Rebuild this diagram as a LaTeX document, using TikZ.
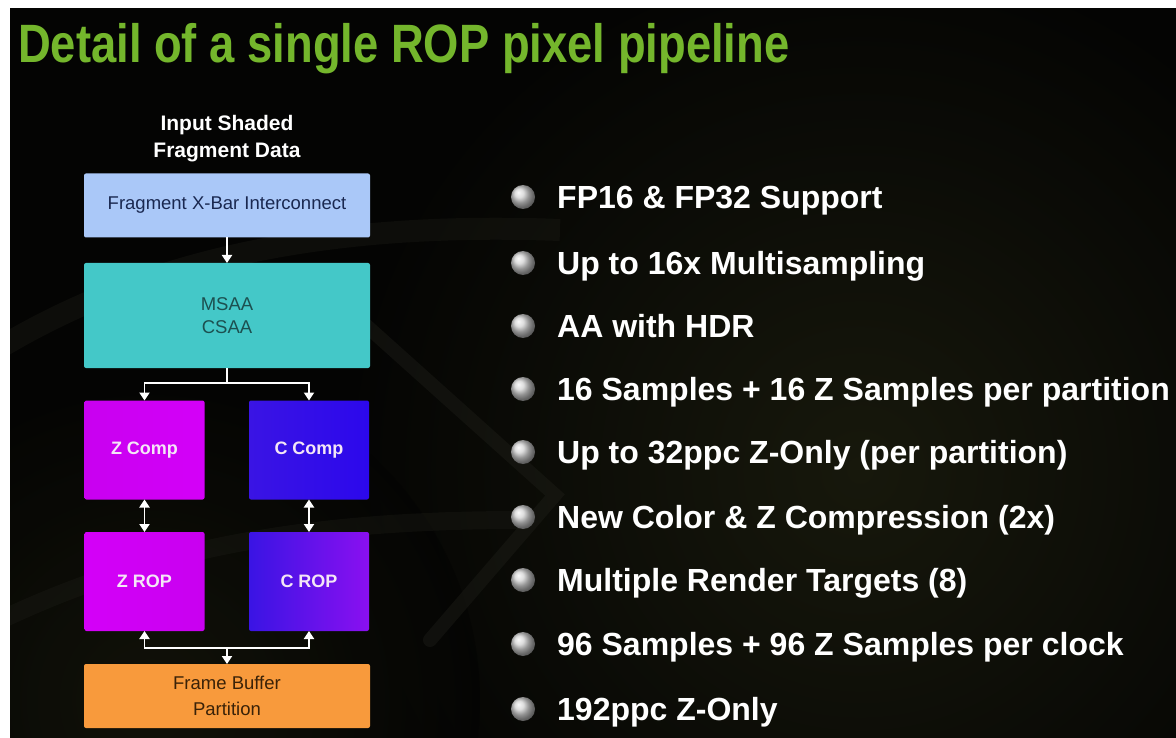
\documentclass[tikz,border=0pt]{standalone}
\usepackage{fontspec}
\setmainfont{Liberation Sans}
\newfontfamily\titlefont[FakeStretch=0.84]{Liberation Sans}
\usetikzlibrary{arrows.meta}
\definecolor{nvgreen}{HTML}{74B62C}
\definecolor{xbarblue}{HTML}{AAC8F8}
\definecolor{msaateal}{HTML}{44C8C8}
\definecolor{zpurple}{HTML}{C800F0}
\definecolor{zpurpleb}{HTML}{D400F8}
\definecolor{cblue}{HTML}{2C08EC}
\definecolor{cbluel}{HTML}{3A14E4}
\definecolor{cropviolet}{HTML}{8A10F0}
\definecolor{fborange}{HTML}{F89A3C}
\definecolor{navytext}{HTML}{1A2850}
\definecolor{tealtext}{HTML}{1C5050}
\definecolor{browntext}{HTML}{3A2208}
\definecolor{boxtext}{HTML}{F4E6F6}
\definecolor{slidebg}{HTML}{040403}
\definecolor{swoosh}{HTML}{1E1E18}
\definecolor{olivebg}{HTML}{17180C}
\tikzset{
  block/.style={inner sep=0pt, outer sep=0pt, rounded corners=2pt,
    align=center, font=\fontsize{18.5}{23}\selectfont},
  wideblock/.style={block, minimum width=286pt},
  smallblock/.style={block, minimum width=120pt, minimum height=99pt,
    text=boxtext, font=\bfseries\fontsize{18}{22}\selectfont},
  arr/.style={draw=white, line width=1.8pt,
    -{Triangle[width=10pt,length=8pt]}},
  darr/.style={draw=white, line width=1.8pt,
    {Triangle[width=10pt,length=8pt]}-{Triangle[width=10pt,length=8pt]}},
  wire/.style={draw=white, line width=1.8pt},
  bulletball/.style={ball color=gray!35!white},
  itemtext/.style={anchor=base west, inner sep=0pt, text=white,
    font=\bfseries\fontsize{32}{36}\selectfont},
}
\begin{document}
\begin{tikzpicture}[x=1pt, y=-1pt]
\useasboundingbox (0,0) rectangle (1176,738);
% slide background
\fill[slidebg] (0,0) rectangle (1176,738);
% faint logo swoosh in the backdrop
\begin{scope}
  \clip (0,0) rectangle (1176,738);
  \shade[inner color=olivebg, outer color=slidebg] (860,470) circle (520pt);
  \shade[inner color=olivebg, outer color=slidebg, opacity=0.7] (150,700) circle (330pt);
  \draw[swoosh, line width=14pt, opacity=0.45, line cap=round]
    (360,320) -- (555,495) -- (430,640);
  \draw[swoosh, line width=22pt, opacity=0.35]
    (-20,360) .. controls (120,270) and (300,220) .. (560,230);
  \draw[swoosh, line width=18pt, opacity=0.35]
    (-20,630) .. controls (140,550) and (300,520) .. (520,520);
\end{scope}
% white page margin above and to the left of the slide
\fill[white] (0,0) rectangle (1176,8);
\fill[white] (0,0) rectangle (10,738);

% title
\node[anchor=base west, inner sep=0pt, text=nvgreen,
  font=\titlefont\bfseries\fontsize{54}{60}\selectfont] (title) at (18,63)
  {Detail of a single ROP pixel pipeline};

% pipeline diagram
\node[align=center, text=white, inner sep=0pt,
  font=\bfseries\fontsize{21}{27}\selectfont] (input) at (227,139)
  {Input Shaded\\Fragment Data};
\node[wideblock, minimum height=64pt, fill=xbarblue, text=navytext] (xbar) at (227,205.5)
  {Fragment X-Bar Interconnect};
\node[wideblock, minimum height=105pt, fill=msaateal, text=tealtext] (msaa) at (227,315.5)
  {MSAA\\CSAA};
\node[smallblock, left color=zpurple, right color=zpurpleb] (zcomp) at (144.5,450)
  {Z Comp};
\node[smallblock, left color=cbluel, right color=cblue] (ccomp) at (309,450)
  {C Comp};
\node[smallblock, left color=zpurpleb, right color=zpurple] (zrop) at (144.5,581.5)
  {Z ROP};
\node[smallblock, shading angle=135, left color=cbluel, right color=cropviolet,
  shading=axis] (crop) at (309,581.5)
  {C ROP};
\node[wideblock, minimum height=64pt, fill=fborange, text=browntext,
  font=\fontsize{18.5}{26}\selectfont] (fb) at (227,696)
  {Frame Buffer\\Partition};

\coordinate (split) at (227,383);
\coordinate (merge) at (227,648);
\draw[arr] (xbar.south) -- (msaa.north);
\draw[wire] (msaa.south) -- (split);
\draw[arr] (split) -| (zcomp.north);
\draw[arr] (split) -| (ccomp.north);
\draw[darr] (zcomp.south) -- (zrop.north);
\draw[darr] (ccomp.south) -- (crop.north);
\draw[arr] (merge) -| (zrop.south);
\draw[arr] (merge) -| (crop.south);
\draw[arr] (merge) -- (fb.north);

% feature list
\foreach \y/\txt [count=\i] in {
  197/{FP16 \& FP32 Support},
  263/{Up to 16x Multisampling},
  326/{AA with HDR},
  389/{16 Samples + 16 Z Samples per partition},
  452/{Up to 32ppc Z-Only (per partition)},
  517/{New Color \& Z Compression (2x)},
  580/{Multiple Render Targets (8)},
  644/{96 Samples + 96 Z Samples per clock},
  709/{192ppc Z-Only}} {
  \shade[bulletball] (523,\y) circle (12pt);
  \node[itemtext] (item\i) at (557,\y+11.5) {\txt};
}
\end{tikzpicture}
\end{document}
